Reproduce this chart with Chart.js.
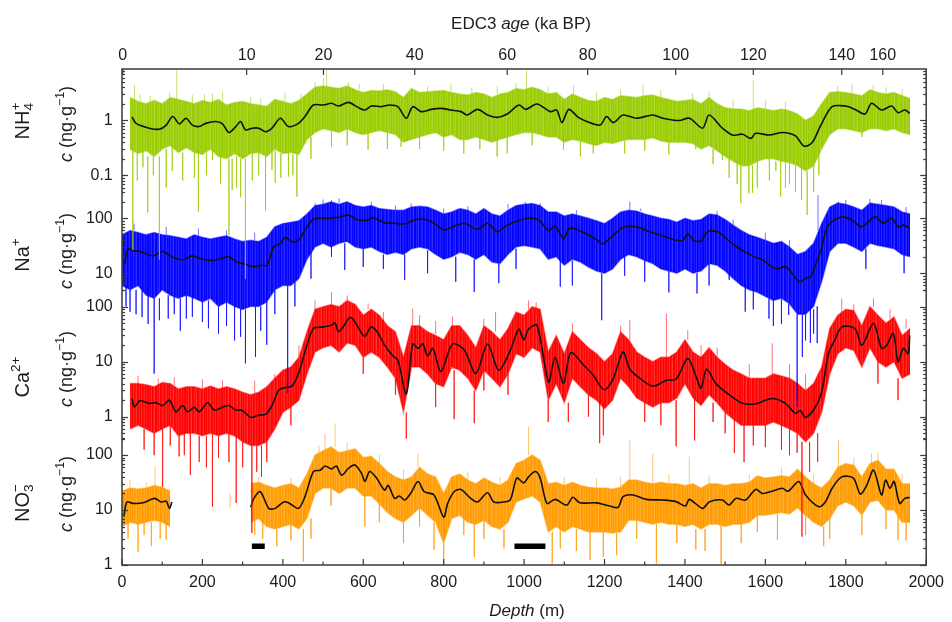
<!DOCTYPE html>
<html>
<head>
<meta charset="utf-8">
<title>EDC ion records vs depth</title>
<script src="https://cdn.jsdelivr.net/npm/chart.js@4.4.1/dist/chart.umd.min.js"></script>
<style>
  html, body { margin: 0; padding: 0; background: #ffffff; }
  #c { display: block; width: 952px; height: 622px; }
</style>
</head>
<body>
<canvas id="c" width="952" height="622"></canvas>
<script>
// ---------------------------------------------------------------------------
// Data: depth in m, concentrations in ng/g
// ---------------------------------------------------------------------------

// depth bins (m) for the envelope of the high-resolution records
const depthBins = [
  0, 20, 40, 60, 80, 100, 120, 140, 160, 180,
  200, 220, 240, 260, 280, 300, 320, 340, 360, 380,
  400, 420, 440, 460, 480, 500, 520, 540, 560, 580,
  600, 620, 640, 660, 680, 700, 720, 740, 760, 780,
  800, 820, 840, 860, 880, 900, 920, 940, 960, 980,
  1000, 1020, 1040, 1060, 1080, 1100, 1120, 1140, 1160, 1180,
  1200, 1220, 1240, 1260, 1280, 1300, 1320, 1340, 1360, 1380,
  1400, 1420, 1440, 1460, 1480, 1500, 1520, 1540, 1560, 1580,
  1600, 1620, 1640, 1660, 1680, 1700, 1720, 1740, 1760, 1780,
  1800, 1820, 1840, 1860, 1880, 1900, 1920, 1940, 1960
];

// NH4+ : upper / lower edge of the dense record per bin
const nh4Hi = [
  null, 2.6, 2.2, 2.0, 2.3, 2.0, 2.6, 2.4, 2.2, 2.0,
  2.3, 2.1, 2.4, 1.9, 2.1, 2.2, 2.0, 1.9, 1.8, 2.4,
  2.2, 2.0, 2.3, 3.0, 4.0, 4.2, 4.0, 3.8, 4.2, 3.6,
  3.2, 3.5, 3.4, 3.6, 3.3, 2.6, 3.8, 3.2, 3.3, 3.4,
  3.5, 3.2, 3.0, 2.9, 3.2, 3.0, 2.6, 3.0, 3.2, 3.8,
  3.6, 4.0, 3.6, 3.0, 3.2, 2.4, 3.0, 2.6, 2.3, 2.2,
  2.6, 2.4, 2.8, 2.7, 2.6, 2.8, 2.9, 2.6, 2.4, 2.2,
  2.3, 2.4, 2.0, 2.6, 2.0, 1.7, 1.6, 1.6, 1.5, 1.7,
  1.6, 1.5, 1.6, 1.5, 1.3, 1.0, 1.2, 2.0, 3.2, 3.3,
  3.2, 3.0, 2.8, 3.6, 3.2, 3.0, 3.2, 2.8, 2.5
];
const nh4Lo = [
  null, 0.3, 0.25, 0.28, 0.22, 0.3, 0.35, 0.26, 0.32, 0.26,
  0.24, 0.3, 0.22, 0.2, 0.25, 0.2, 0.25, 0.26, 0.22, 0.3,
  0.25, 0.26, 0.24, 0.45, 0.6, 0.7, 0.65, 0.6, 0.7, 0.6,
  0.55, 0.6, 0.65, 0.6, 0.55, 0.4, 0.45, 0.5, 0.55, 0.6,
  0.5, 0.55, 0.45, 0.45, 0.5, 0.45, 0.4, 0.45, 0.5, 0.55,
  0.6, 0.6, 0.55, 0.5, 0.5, 0.4, 0.45, 0.42, 0.38, 0.35,
  0.4, 0.38, 0.42, 0.45, 0.45, 0.45, 0.48, 0.42, 0.4, 0.4,
  0.4, 0.38, 0.3, 0.35, 0.28, 0.22, 0.18, 0.15, 0.15, 0.18,
  0.2, 0.2, 0.18, 0.17, 0.15, 0.12, 0.15, 0.3, 0.55, 0.7,
  0.7, 0.65, 0.6, 0.7, 0.7, 0.65, 0.7, 0.6, 0.55
];
// NH4+ smoothed curve [depth, value]
const nh4Fit = [
  [25, 1.15], [35, 0.88], [68, 0.72], [93, 0.69], [110, 0.82], [126, 1.17], [143, 0.86],
  [159, 1.09], [175, 0.82], [192, 0.77], [208, 0.88], [233, 0.95], [250, 0.86], [266, 0.6],
  [283, 0.77], [295, 0.95], [307, 0.67], [324, 0.72], [340, 0.72], [357, 0.62], [373, 0.72],
  [394, 1.09], [414, 0.77], [439, 0.88], [455, 1.17], [476, 1.9], [501, 1.9], [521, 2.04],
  [538, 1.82], [563, 2.12], [587, 1.72], [604, 1.54], [620, 1.82], [645, 1.77], [666, 1.9],
  [686, 1.77], [707, 1.09], [723, 1.77], [744, 1.44], [769, 1.58], [793, 1.65], [818, 1.54],
  [843, 1.44], [859, 1.25], [884, 1.58], [909, 1.25], [933, 1.13], [958, 1.3], [987, 1.9],
  [1004, 1.58], [1032, 1.98], [1065, 1.44], [1081, 1.54], [1094, 0.91], [1111, 1.58],
  [1135, 1.13], [1156, 0.95], [1189, 0.82], [1205, 1.17], [1222, 0.91], [1246, 1.25],
  [1279, 1.09], [1320, 1.25], [1345, 1.09], [1386, 0.99], [1411, 1.09], [1444, 0.72],
  [1460, 1.25], [1493, 0.72], [1518, 0.54], [1543, 0.56], [1564, 0.47], [1576, 0.58],
  [1610, 0.54], [1643, 0.6], [1675, 0.52], [1696, 0.34], [1716, 0.39], [1737, 0.79],
  [1766, 1.77], [1799, 1.82], [1823, 1.58], [1848, 1.3], [1864, 2.04], [1889, 1.54],
  [1914, 1.82], [1930, 1.38], [1947, 1.54], [1959, 1.34]
];
// NH4+ single-sample excursions [depth, from, to]
const nh4Spikes = [
  [31, 2.4, 4.4], [136, 2.4, 8.2], [225, 2.1, 3.1], [501, 4, 5.8], [509, 4, 8.2],
  [563, 4, 5], [818, 3.3, 4.7], [933, 3, 4.1], [1006, 3.6, 8.2], [1123, 3, 4.4],
  [1296, 2.7, 4.4], [1419, 2.4, 3.1], [1570, 1.5, 5.4], [1815, 3, 4.7], [1868, 3.4, 4.4],
  [45, 2.2, 3.0], [70, 2.0, 2.8], [118, 2.4, 3.2], [175, 2.1, 2.9], [205, 2.2, 3.0],
  [250, 2.3, 3.3], [320, 2.0, 2.7], [345, 1.9, 2.5], [405, 2.2, 3.2], [445, 2.2, 3.0],
  [480, 4, 5], [590, 3.6, 4.6], [650, 3.5, 4.6], [760, 3.3, 4.2], [870, 3, 4],
  [980, 3.6, 4.8], [1060, 3, 4], [1180, 2.2, 3.2], [1240, 2.8, 3.6], [1340, 2.6, 3.6],
  [1460, 2.4, 3.4], [1520, 1.6, 2.4], [1600, 1.6, 2.3], [1650, 1.5, 2.2], [1780, 3.2, 4.2],
  [1900, 3, 4], [1940, 2.8, 3.6],
  [27, 0.3, 0.0044], [52, 0.28, 0.14], [64, 0.22, 0.021], [93, 0.22, 0.0029],
  [110, 0.3, 0.06], [151, 0.26, 0.08], [190, 0.26, 0.022], [225, 0.3, 0.19],
  [266, 0.2, 0.0082], [274, 0.2, 0.054], [295, 0.2, 0.04], [307, 0.2, 0.0013],
  [324, 0.25, 0.08], [357, 0.22, 0.023], [373, 0.3, 0.125], [381, 0.28, 0.073],
  [414, 0.26, 0.095], [435, 0.24, 0.041], [521, 0.65, 0.33], [612, 0.6, 0.29],
  [694, 0.45, 0.33], [933, 0.45, 0.22], [958, 0.5, 0.25], [1098, 0.4, 0.29],
  [1172, 0.38, 0.25], [1427, 0.38, 0.3], [1493, 0.28, 0.19], [1510, 0.22, 0.09],
  [1539, 0.15, 0.031], [1559, 0.15, 0.047], [1568, 0.15, 0.048], [1626, 0.18, 0.12],
  [1638, 0.18, 0.041], [1660, 0.17, 0.07], [1690, 0.15, 0.036], [1704, 0.12, 0.019],
  [1733, 0.3, 0.1], [1840, 0.6, 0.5],
  [38, 0.25, 0.08], [78, 0.22, 0.1], [125, 0.35, 0.12], [180, 0.26, 0.09], [210, 0.25, 0.1],
  [245, 0.22, 0.07], [285, 0.22, 0.06], [340, 0.26, 0.1], [395, 0.25, 0.09], [425, 0.24, 0.1],
  [470, 0.5, 0.2], [560, 0.7, 0.35], [660, 0.6, 0.3], [740, 0.5, 0.3], [800, 0.5, 0.28],
  [850, 0.45, 0.25], [890, 0.5, 0.3], [1020, 0.6, 0.35], [1140, 0.42, 0.22], [1250, 0.42, 0.25],
  [1300, 0.45, 0.28], [1360, 0.4, 0.24], [1470, 0.3, 0.16], [1530, 0.18, 0.07],
  [1580, 0.18, 0.06], [1610, 0.2, 0.08], [1650, 0.17, 0.06], [1675, 0.15, 0.05], [1720, 0.15, 0.05]
];

// Na+
const naHi = [
  50, 60, 55, 50, 55, 50, 48, 45, 42, 50,
  45, 42, 45, 48, 42, 38, 40, 38, 45, 70,
  80, 85, 90, 120, 170, 180, 200, 180, 200, 170,
  160, 170, 150, 145, 140, 140, 160, 165, 160, 140,
  120, 130, 150, 140, 120, 150, 120, 110, 140, 170,
  180, 185, 170, 130, 130, 110, 120, 110, 100, 90,
  80, 100, 130, 140, 135, 120, 110, 100, 95, 85,
  100, 90, 95, 120, 115, 95, 75, 60, 50, 45,
  40, 35, 38, 30, 22, 25, 35, 80, 160, 190,
  180, 160, 140, 190, 180, 170, 160, 130, 120
];
const naLo = [
  6, 5, 6, 4, 3.5, 5, 4, 3.5, 4, 3.5,
  3, 3.5, 2.5, 3, 2.5, 2.2, 2.5, 2.5, 3, 5,
  6, 6, 8, 18, 30, 35, 30, 35, 38, 30,
  28, 30, 25, 22, 24, 22, 28, 30, 28, 22,
  18, 20, 24, 22, 18, 22, 16, 15, 22, 30,
  32, 30, 28, 18, 20, 14, 18, 16, 13, 11,
  10, 12, 18, 22, 20, 17, 15, 12, 11, 10,
  12, 10, 11, 15, 14, 11, 8, 6, 5, 4.5,
  3.8, 3.2, 3.5, 2.8, 1.8, 1.8, 2.5, 7, 25, 35,
  35, 30, 25, 35, 32, 30, 28, 22, 20
];
const naFit = [
  [7, 15], [15, 28], [27, 26], [44, 25], [77, 20.7], [101, 25], [126, 19.5], [151, 17.5],
  [175, 20.7], [200, 18], [225, 17], [250, 18.8], [266, 20], [283, 16.3], [307, 14.6],
  [328, 13.2], [348, 14], [361, 14], [377, 30], [394, 35], [406, 45], [423, 37.5],
  [439, 40], [455, 61], [476, 96], [501, 100], [521, 100], [546, 107], [563, 115],
  [587, 93], [612, 93], [624, 103], [653, 83], [678, 81], [703, 79], [727, 93], [752, 96],
  [776, 81], [801, 61], [826, 72], [851, 81], [884, 63], [909, 81], [933, 57], [958, 75],
  [1008, 100], [1036, 93], [1061, 60], [1077, 72], [1098, 43], [1114, 66], [1148, 55],
  [1180, 41], [1195, 34], [1213, 43], [1246, 68], [1279, 70], [1312, 57], [1345, 48],
  [1378, 40], [1394, 39], [1407, 52], [1423, 39], [1440, 39], [1456, 57], [1481, 57],
  [1502, 43], [1535, 28], [1568, 20.7], [1593, 17.5], [1626, 12], [1650, 13.2], [1666, 10],
  [1685, 7], [1704, 8.4], [1712, 8.4], [1737, 25], [1757, 75], [1791, 107], [1815, 93],
  [1840, 70], [1873, 107], [1893, 81], [1914, 100], [1930, 70], [1943, 75], [1959, 66]
];
const naSpikes = [
  [480, 170, 187], [521, 200, 215], [571, 170, 187], [719, 160, 187], [1003, 180, 200],
  [1263, 140, 200], [1731, 60, 265], [1782, 180, 200], [1889, 180, 215],
  [30, 60, 80], [110, 50, 70], [190, 48, 65], [260, 48, 60], [330, 40, 55], [500, 180, 220],
  [540, 190, 230], [620, 170, 200], [680, 140, 170], [800, 120, 150], [860, 140, 165],
  [960, 150, 180], [1040, 170, 190], [1130, 115, 140], [1290, 135, 150], [1480, 115, 135],
  [1520, 75, 95], [1600, 40, 55], [1660, 30, 40], [1800, 180, 215], [1860, 190, 225],
  [1950, 120, 160],
  [20, 5, 2.0], [50, 6, 1.6], [80, 3.5, 0.15], [93, 3.5, 1.4], [130, 4, 1.8], [160, 4, 1.5],
  [200, 3, 1.3], [240, 2.5, 0.8], [280, 2.5, 0.6], [307, 2.2, 0.23], [332, 2.5, 0.3],
  [360, 3, 0.5], [412, 6, 0.067], [521, 30, 20], [554, 35, 11.5], [650, 22, 12],
  [703, 22, 7.6], [876, 18, 4.6], [937, 15, 6.6], [1090, 18, 5.7], [1193, 10, 1.4],
  [1430, 10, 4.3], [1510, 11, 7.6], [1609, 3.5, 1.5], [1658, 2.8, 1.75],
  [1679, 1.8, 0.037], [1692, 1.8, 0.3], [1712, 2.5, 0.54], [1729, 2.5, 0.54],
  [10, 6, 2.5], [35, 5, 1.8], [65, 4, 1.2], [115, 4, 1.5], [145, 3.5, 0.9], [175, 4, 1.6],
  [215, 3.2, 1], [260, 3, 1.1], [295, 2.3, 0.7], [345, 2.5, 0.9], [380, 5, 1.8], [430, 7, 2.5],
  [470, 25, 8], [600, 28, 13], [760, 26, 10], [830, 20, 7], [980, 28, 12], [1120, 17, 6],
  [1250, 20, 9], [1300, 17, 7], [1360, 11, 4.5], [1460, 15, 6], [1550, 6, 2], [1570, 5, 2.2],
  [1620, 3.3, 1.1], [1640, 3.4, 1.2], [1700, 1.8, 0.6], [1720, 2.2, 0.8], [1850, 28, 12],
  [1945, 22, 10]
];

// Ca2+
const caHi = [
  null, 4, 4, 3.8, 3.5, 4.2, 4, 3.2, 3.5, 3.5,
  3.2, 3.6, 3.2, 3.5, 3.2, 2.8, 2.5, 2.8, 3.5, 5,
  7, 8, 12, 35, 90, 100, 110, 100, 130, 110,
  70, 90, 70, 45, 35, 12, 45, 45, 35, 30,
  25, 45, 45, 30, 18, 45, 35, 25, 40, 80,
  70, 100, 90, 15, 30, 14, 35, 25, 18, 14,
  10, 14, 35, 25, 15, 12, 10, 12, 12, 15,
  25, 15, 12, 18, 12, 9, 7, 6, 5, 5,
  5, 6, 5.5, 5, 4, 3, 4, 8, 40, 70,
  90, 85, 45, 100, 70, 50, 65, 30, 40
];
const caLo = [
  null, 0.6, 0.7, 0.6, 0.5, 0.6, 0.7, 0.45, 0.5, 0.5,
  0.45, 0.5, 0.45, 0.5, 0.45, 0.35, 0.3, 0.3, 0.35, 0.6,
  1.2, 1.5, 2, 6, 15, 18, 20, 15, 22, 20,
  12, 15, 12, 8, 5, 1.2, 8, 8, 6, 4,
  3.5, 8, 7, 5, 3, 7, 5, 3.5, 6, 14,
  12, 18, 15, 2, 4, 1.8, 5, 3.5, 2.5, 2,
  1.4, 2, 5, 3.5, 2.2, 1.8, 1.5, 1.8, 1.8, 2.2,
  4, 2.2, 1.6, 2.5, 1.8, 1.2, 0.9, 0.7, 0.7, 0.7,
  0.7, 0.8, 0.7, 0.6, 0.5, 0.35, 0.5, 1.2, 6, 14,
  18, 16, 8, 18, 10, 8, 10, 5, 6
];
const caFit = [
  [25, 2.15], [31, 1.5], [44, 1.95], [68, 1.75], [85, 1.8], [101, 1.6], [118, 2.0],
  [134, 1.23], [151, 1.6], [163, 1.23], [180, 1.48], [192, 1.23], [213, 1.8], [229, 1.32],
  [250, 1.48], [266, 1.6], [283, 1.32], [299, 1.3], [320, 0.97], [340, 1.07], [357, 1.1],
  [373, 1.6], [390, 3.05], [406, 3.4], [423, 3.6], [439, 6.1], [455, 15], [476, 40],
  [501, 43], [521, 46], [530, 51], [538, 35], [550, 43], [567, 64], [579, 53], [596, 33],
  [604, 29], [620, 43], [637, 33], [653, 20], [674, 12.7], [686, 10.7], [707, 2.6],
  [723, 21], [736, 17.5], [748, 21], [760, 12.7], [773, 17.5], [793, 6.6], [822, 21],
  [851, 16.3], [880, 6.1], [909, 21], [937, 7], [966, 16.3], [987, 39], [999, 25],
  [1011, 39], [1032, 46], [1061, 4.3], [1077, 12], [1098, 4.0], [1116, 14.6], [1148, 8.7],
  [1172, 5.7], [1199, 3.1], [1222, 5], [1246, 15], [1263, 7.3], [1288, 5], [1321, 3.6],
  [1354, 4.6], [1378, 4.8], [1407, 11.5], [1428, 5.3], [1440, 3.3], [1454, 7.3],
  [1477, 4.0], [1510, 2.5], [1543, 1.75], [1576, 1.72], [1617, 2.15], [1650, 1.75],
  [1675, 1.15], [1687, 1.3], [1700, 0.97], [1725, 1.52], [1741, 3.05], [1757, 14.1],
  [1774, 26], [1790, 43], [1823, 40], [1840, 20], [1869, 50], [1889, 17.5], [1902, 20],
  [1918, 33], [1930, 10], [1943, 17.5], [1955, 14], [1959, 30]
];
const caSpikes = [
  [480, 90, 130], [521, 110, 186], [612, 90, 115], [723, 45, 93], [822, 45, 66],
  [929, 35, 81], [1011, 90, 130], [1263, 25, 57], [1354, 12, 75], [1407, 25, 37.6],
  [1617, 6, 21.6], [1790, 70, 141], [1869, 100, 141],
  [40, 4, 5.5], [90, 3.6, 5], [130, 3.8, 5.2], [200, 3.3, 4.8], [250, 3.3, 4.6],
  [330, 2.6, 4.5], [380, 4.5, 6], [440, 12, 20], [560, 130, 160], [650, 50, 80],
  [740, 45, 70], [780, 32, 55], [900, 45, 60], [1030, 90, 120], [1120, 35, 50],
  [1240, 35, 45], [1440, 12, 20], [1480, 12, 18], [1560, 5, 9], [1660, 5, 9], [1700, 3, 6],
  [1820, 85, 110], [1910, 60, 90], [1950, 40, 60],
  [101, 0.6, 0.053], [142, 0.45, 0.19], [170, 0.5, 0.087], [192, 0.45, 0.15],
  [225, 0.5, 0.023], [266, 0.5, 0.15], [284, 0.45, 0.027], [323, 0.3, 0.0077],
  [347, 0.3, 0.081], [707, 1.2, 0.4], [826, 7, 0.9], [876, 3, 0.76], [1188, 2, 0.33],
  [1197, 1.8, 0.46], [1378, 2, 0.29], [1424, 2.2, 0.37], [1523, 0.9, 0.22],
  [1547, 0.7, 0.15], [1679, 0.5, 0.22], [1691, 0.35, 0.0066],
  [55, 0.6, 0.25], [80, 0.5, 0.2], [120, 0.7, 0.3], [155, 0.5, 0.2], [210, 0.45, 0.12],
  [240, 0.45, 0.18], [300, 0.35, 0.12], [335, 0.3, 0.1], [360, 0.35, 0.15], [420, 1.5, 0.7],
  [600, 12, 6], [680, 5, 2.5], [780, 4, 1.5], [900, 7, 3], [960, 6, 2.5], [1060, 2, 0.8],
  [1110, 1.8, 0.8], [1160, 2.5, 1], [1300, 1.8, 0.8], [1340, 1.8, 0.7], [1470, 1.8, 0.8],
  [1500, 1.2, 0.5], [1570, 0.7, 0.3], [1600, 0.7, 0.28], [1640, 0.7, 0.25], [1660, 0.6, 0.2],
  [1710, 0.35, 0.1], [1730, 0.5, 0.15], [1880, 10, 4], [1930, 5, 2]
];

// NO3- (no data between ~125 m and ~320 m)
const no3Hi = [
  22, 25, 24, 25, 28, 26, 22, null, null, null,
  null, null, null, null, null, null, 30, 32, 28, 25,
  28, 30, 25, 45, 100, 120, 140, 110, 120, 130,
  90, 95, 70, 50, 40, 35, 40, 60, 45, 40,
  20, 40, 45, 35, 30, 38, 32, 28, 35, 70,
  80, 100, 80, 30, 32, 28, 32, 28, 26, 25,
  25, 24, 26, 35, 35, 32, 30, 32, 30, 30,
  28, 30, 25, 30, 30, 28, 30, 30, 32, 42,
  38, 40, 42, 40, 55, 40, 30, 25, 35, 60,
  70, 65, 40, 70, 80, 55, 55, 30, 30
];
const no3Lo = [
  5, 6, 5.5, 6, 6.5, 6, 5, null, null, null,
  null, null, null, null, null, null, 6, 7, 5, 4.5,
  5, 5.5, 4.5, 7, 20, 25, 25, 20, 25, 25,
  18, 18, 13, 9, 7, 6, 8, 11, 8, 6,
  2.5, 7, 8, 6, 5.5, 6.5, 5, 4.5, 6, 14,
  16, 18, 14, 4, 5, 4, 5, 4.5, 4, 4,
  4, 3.8, 4, 6.5, 6.5, 6, 5.5, 6, 5.5, 5.5,
  5, 5.5, 4.5, 5.5, 5.5, 5, 5.5, 5.5, 6, 8,
  8, 8.5, 9, 8.5, 11, 8, 6, 5, 7, 12,
  14, 12, 8, 14, 15, 10, 10, 6, 6
];
const no3Fit = [
  [5, 7.6], [12, 14], [27, 13.2], [52, 13.5], [81, 16.3], [97, 14], [110, 14.5],
  [118, 10.7], [124, 14], [220, null],
  [320, 11.2], [328, 16.3], [344, 21.5], [365, 10.7], [381, 10.7], [402, 14], [414, 13.5],
  [439, 10.7], [455, 17.5], [476, 50], [493, 53], [505, 63], [521, 56], [533, 63],
  [546, 43], [563, 57], [579, 66], [596, 46], [604, 33], [616, 50], [633, 38], [653, 23],
  [662, 28], [678, 16.3], [690, 18], [703, 15.2], [719, 20.6], [736, 33], [752, 21.5],
  [776, 18.8], [800, 7.4], [810, 13.2], [826, 21.5], [843, 23.7], [867, 16.3], [884, 14],
  [909, 20.6], [925, 14], [950, 14], [966, 15.5], [982, 38], [999, 31], [1011, 40],
  [1028, 50], [1040, 38], [1057, 13.2], [1077, 15.6], [1106, 12.3], [1121, 17],
  [1139, 13.5], [1180, 13.5], [1213, 11.8], [1234, 11.2], [1246, 17.5], [1271, 18.8],
  [1304, 15.6], [1345, 15.2], [1378, 14.2], [1401, 11.8], [1411, 15.6], [1444, 10.7],
  [1460, 14], [1493, 15.2], [1510, 12.3], [1527, 16.3], [1551, 15.2], [1576, 23.7],
  [1593, 20], [1617, 22], [1642, 24.8], [1657, 22], [1683, 33], [1700, 18.8],
  [1733, 11.5], [1749, 14], [1766, 24.8], [1790, 40], [1819, 38], [1836, 19.5],
  [1852, 28], [1869, 53], [1889, 18.8], [1899, 35], [1910, 24.8], [1920, 33],
  [1934, 13.2], [1947, 16.3], [1959, 16.9]
];
const no3Spikes = [
  [82, 25, 61], [505, 120, 246], [530, 140, 377], [736, 60, 107], [1011, 100, 325],
  [1263, 35, 187], [1320, 30, 107], [1411, 30, 93], [1782, 60, 187], [1864, 70, 107],
  [269, 11, 20],
  [20, 25, 35], [60, 25, 32], [100, 26, 33], [340, 32, 40], [420, 30, 38], [490, 110, 150],
  [560, 120, 170], [640, 70, 100], [700, 35, 55], [860, 35, 50], [940, 28, 40],
  [1100, 28, 40], [1180, 25, 38], [1240, 26, 40], [1360, 30, 45], [1460, 30, 42],
  [1560, 32, 45], [1640, 42, 60], [1720, 30, 45], [1820, 65, 90], [1880, 80, 110],
  [1940, 30, 45],
  [40, 5.5, 1.75], [73, 6, 2.2], [110, 6, 2.85], [385, 4.5, 2.2], [451, 4.5, 1.15],
  [604, 18, 5], [776, 6, 1.9], [800, 2.5, 1], [876, 5.5, 1.4], [1070, 4, 1.07],
  [1164, 4, 1.23], [1197, 4, 1.4], [1329, 5.5, 1.07], [1427, 4.5, 1.9], [1490, 5.5, 1.05],
  [1630, 8.5, 2.85], [1745, 5, 2.2], [1930, 10, 2.85],
  [15, 6, 3], [55, 6, 3.5], [95, 6, 3], [330, 7, 3.5], [350, 7, 3], [420, 5.5, 2.8],
  [470, 7, 3], [520, 25, 12], [640, 13, 6], [700, 6, 2.5], [740, 11, 5], [850, 8, 3.5],
  [900, 6.5, 3], [950, 4.5, 2], [1090, 5, 2], [1130, 4.5, 1.8], [1230, 3.8, 1.5],
  [1280, 6.5, 3], [1380, 5.5, 2.5], [1450, 4.5, 1.8], [1540, 5.5, 2.5], [1580, 8, 4],
  [1700, 8, 3.5], [1760, 7, 3], [1840, 8, 3.5], [1900, 10, 4.5], [1950, 6, 2.8]
];

// core sections marked below the NO3- record [from, to] (m), drawn at a fixed level
const markedSections = [[323, 355], [976, 1053]];
const markedLevel = 2.2;

// EDC3 age scale (ka BP) and the depths (m) where those ages fall
const ageLabels = [0, 10, 20, 40, 60, 80, 100, 120, 140, 160];
const ageDepths = [2, 310, 501, 728, 958, 1158, 1377, 1570, 1790, 1892];

// labelled ticks on each concentration axis
const nh4TickLabels = [0.1, 1];
const naTickLabels = [10, 100];
const caTickLabels = [1, 10, 100];
const no3TickLabels = [1, 10, 100];

// ---------------------------------------------------------------------------
// Layout of the stacked log axes
// ---------------------------------------------------------------------------
const FONT = '"Liberation Sans", Arial, Helvetica, sans-serif';
const INK = '#1c1c1c';
const FRAME = '#3a3a3a';
const PLOT_H = 496;          // plot height in px
const PX_PER_DECADE = 55;    // shared vertical scale of all log axes
const DECADES = PLOT_H / PX_PER_DECADE;

// logMin: log10 of the value at the bottom edge of the plot for that axis
const panels = [
  { id: 'nh4', axis: 'yNH4', logMin: -8.085, ticks: nh4TickLabels, tickRange: [0.05, 8.4], rgb: [153, 204, 0],
    hi: nh4Hi, lo: nh4Lo, fit: nh4Fit, spikes: nh4Spikes, order: 0 },
  { id: 'na', axis: 'yNa', logMin: -4.304, ticks: naTickLabels, tickRange: [5, 200], rgb: [0, 0, 255],
    hi: naHi, lo: naLo, fit: naFit, spikes: naSpikes, order: 10 },
  { id: 'ca', axis: 'yCa', logMin: -2.696, ticks: caTickLabels, tickRange: [0.4, 200], rgb: [255, 0, 0],
    hi: caHi, lo: caLo, fit: caFit, spikes: caSpikes, order: 20 },
  { id: 'no3', axis: 'yNO3', logMin: 0, ticks: no3TickLabels, tickRange: [1, 200], rgb: [255, 155, 0],
    hi: no3Hi, lo: no3Lo, fit: no3Fit, spikes: no3Spikes, order: 30 }
];

const canvas = document.getElementById('c');
const rgba = (c, a) => `rgba(${c[0]},${c[1]},${c[2]},${a})`;

// faint, irregular vertical grain so the envelope reads like densely packed samples
const GRAIN_ALPHA = [
  1, 0.9, 0.97, 0.84, 1, 0.93, 0.8, 0.98, 1, 0.88, 0.95, 0.82, 1, 0.96, 0.9,
  0.86, 1, 0.94, 0.83, 0.99, 0.91, 1, 0.85, 0.97, 0.92, 0.81, 1, 0.95, 0.89,
  0.98, 0.84, 1, 0.93, 0.87, 0.99, 0.9, 0.96
];
function grainPattern(rgb) {
  const tile = document.createElement('canvas');
  tile.width = GRAIN_ALPHA.length;
  tile.height = 4;
  const t = tile.getContext('2d');
  GRAIN_ALPHA.forEach((a, i) => { t.fillStyle = rgba(rgb, a); t.fillRect(i, 0, 1, 4); });
  return canvas.getContext('2d').createPattern(tile, 'repeat');
}

const binPoints = arr => depthBins.map((d, i) => ({ x: d, y: arr[i] === undefined ? null : arr[i] }));
const pairPoints = pairs => pairs.map(p => ({ x: p[0], y: p[1] }));
const spikePoints = list => {
  const pts = [];
  list.forEach(s => { pts.push({ x: s[0], y: s[1] }, { x: s[0], y: s[2] }, { x: s[0], y: null }); });
  return pts;
};

const datasets = [];
panels.forEach(p => {
  datasets.push({
    label: p.id + ' smoothed', yAxisID: p.axis, data: pairPoints(p.fit),
    borderColor: '#111111', borderWidth: 1.6, pointRadius: 0, tension: 0.3,
    spanGaps: false, fill: false, order: p.order
  });
  datasets.push({
    label: p.id + ' excursions', yAxisID: p.axis, data: spikePoints(p.spikes),
    borderColor: rgba(p.rgb, 0.55), borderWidth: 1, pointRadius: 0, tension: 0,
    spanGaps: false, fill: false, order: p.order + 1
  });
  datasets.push({
    label: p.id + ' upper', yAxisID: p.axis, data: binPoints(p.hi),
    borderColor: rgba(p.rgb, 0.45), borderWidth: 1.5, backgroundColor: grainPattern(p.rgb),
    pointRadius: 0, tension: 0, spanGaps: false, fill: '+1', order: p.order + 2
  });
  datasets.push({
    label: p.id + ' lower', yAxisID: p.axis, data: binPoints(p.lo),
    borderColor: rgba(p.rgb, 0.45), borderWidth: 1.5,
    pointRadius: 0, tension: 0, spanGaps: false, fill: false, order: p.order + 3
  });
});

// black section markers on the NO3- axis
const sectionPts = [];
markedSections.forEach(s => { sectionPts.push({ x: s[0], y: markedLevel }, { x: s[1], y: markedLevel }, { x: s[1], y: null }); });
datasets.push({
  label: 'sections', yAxisID: 'yNO3', data: sectionPts, borderColor: '#000000',
  borderWidth: 5.5, borderCapStyle: 'butt', pointRadius: 0, spanGaps: false, fill: false, order: -1
});

// ---------------------------------------------------------------------------
// Scales
// ---------------------------------------------------------------------------
const tickFont = { family: FONT, size: 16 };
const scales = {
  x: {
    type: 'linear', position: 'bottom', min: 0, max: 2000,
    ticks: { stepSize: 200, autoSkip: false, maxRotation: 0, font: tickFont, color: INK, padding: 8,
             callback: v => String(v) },
    grid: { display: false, drawTicks: false }, border: { display: false },
    afterFit: s => { s.height = 30; }
  },
  age: {
    type: 'linear', position: 'top', min: 0, max: 2000,
    afterBuildTicks: s => { s.ticks = ageDepths.map(d => ({ value: d })); },
    ticks: { autoSkip: false, maxRotation: 0, font: tickFont, color: INK, padding: 4,
             callback: (v, i) => String(ageLabels[i]) },
    grid: { display: false, drawTicks: false }, border: { display: false },
    afterFit: s => { s.height = 40; }
  }
};
panels.forEach(p => {
  scales[p.axis] = {
    type: 'logarithmic',
    position: { x: -23 },
    min: Math.pow(10, p.logMin), max: Math.pow(10, p.logMin + DECADES),
    afterBuildTicks: s => { s.ticks = p.ticks.map(v => ({ value: v })); },
    ticks: { autoSkip: false, font: tickFont, color: INK, padding: 0, callback: v => String(v) },
    grid: { display: false, drawTicks: false }, border: { display: false }
  };
});

// ---------------------------------------------------------------------------
// Frame, inward tick marks and the mixed-style axis titles
// ---------------------------------------------------------------------------
function drawRuns(ctx, runs, size, x, y) {
  const parts = runs.map(r => {
    const fs = r.script ? size * 0.68 : size;
    const font = (r.italic ? 'italic ' : '') + fs + 'px ' + FONT;
    ctx.font = font;
    const dy = r.script === 'sup' ? -size * 0.42 : (r.script === 'sub' ? size * 0.24 : 0);
    return { t: r.t, font, dy, w: ctx.measureText(r.t).width, stack: r.stack };
  });
  const xs = [];
  let cur = 0, lastStart = 0, lastW = 0;
  parts.forEach(p => {
    if (p.stack) {
      xs.push(lastStart);
      lastW = Math.max(lastW, p.w);
      cur = lastStart + lastW;
    } else {
      xs.push(cur); lastStart = cur; lastW = p.w; cur += p.w;
    }
  });
  const x0 = x - cur / 2;
  parts.forEach((p, i) => {
    ctx.font = p.font;
    ctx.fillText(p.t, x0 + xs[i], y + p.dy);
  });
}

const ionLabels = [
  { runs: [{ t: 'NH' }, { t: '4', script: 'sub' }, { t: '+', script: 'sup', stack: true }], y: 121 },
  { runs: [{ t: 'Na' }, { t: '+', script: 'sup' }], y: 255 },
  { runs: [{ t: 'Ca' }, { t: '2+', script: 'sup' }], y: 377 },
  { runs: [{ t: 'NO' }, { t: '3', script: 'sub' }, { t: '\u2212', script: 'sup', stack: true }], y: 503 }
];
const unitRuns = [{ t: 'c', italic: true }, { t: ' (ng\u00b7g' }, { t: '\u22121', script: 'sup' }, { t: ')' }];
const unitCenters = [124, 251, 369, 494];

const decorPlugin = {
  id: 'decor',
  afterDraw(chart) {
    const ctx = chart.ctx;
    const { left, right, top, bottom } = chart.chartArea;
    ctx.save();
    ctx.strokeStyle = FRAME;
    ctx.lineWidth = 1.5;
    ctx.strokeRect(left, top, right - left, bottom - top);

    const seg = (x1, y1, x2, y2) => { ctx.beginPath(); ctx.moveTo(x1, y1); ctx.lineTo(x2, y2); ctx.stroke(); };
    ctx.lineWidth = 1.2;

    // depth ticks (every 100 m, longer every 200 m)
    const xs = chart.scales.x;
    for (let d = 0; d <= 2000; d += 100) {
      const px = xs.getPixelForValue(d);
      const len = d % 200 === 0 ? 6 : 3.5;
      seg(px, bottom, px, bottom - len);
    }
    // age ticks
    const ages = chart.scales.age;
    ageDepths.forEach(d => { const px = ages.getPixelForValue(d); seg(px, top, px, top + 6); });

    // log ticks on both sides for each panel
    panels.forEach(p => {
      const sc = chart.scales[p.axis];
      const [lo, hi] = p.tickRange;
      for (let k = Math.floor(Math.log10(lo)); k <= Math.ceil(Math.log10(hi)); k++) {
        for (let m = 1; m <= 9; m++) {
          const v = m * Math.pow(10, k);
          if (v < lo * 0.999 || v > hi * 1.001) continue;
          const py = Math.round(sc.getPixelForValue(v)) + 0.5;
          const len = m === 1 ? 6 : 3;
          seg(left, py, left + len, py);
          seg(right, py, right - len, py);
        }
      }
    });

    // titles
    ctx.fillStyle = INK;
    ctx.textBaseline = 'alphabetic';
    ctx.textAlign = 'left';
    drawRuns(ctx, [{ t: 'EDC3 ' }, { t: 'age', italic: true }, { t: ' (ka BP)' }], 17, 521, 28.5);
    drawRuns(ctx, [{ t: 'Depth', italic: true }, { t: ' (m)' }], 17, 527, 616);

    const rotated = (runs, size, bx, cy) => {
      ctx.save();
      ctx.translate(bx, cy);
      ctx.rotate(-Math.PI / 2);
      drawRuns(ctx, runs, size, 0, 0);
      ctx.restore();
    };
    ionLabels.forEach(l => rotated(l.runs, 20, 28.5, l.y));
    unitCenters.forEach(cy => rotated(unitRuns, 18, 72, cy));
    ctx.restore();
  }
};

Chart.defaults.font.family = FONT;
new Chart(canvas, {
  type: 'line',
  data: { datasets },
  options: {
    responsive: false,
    devicePixelRatio: 1,
    animation: false,
    layout: { padding: { left: 122, right: 20, top: 29, bottom: 27 } },
    plugins: { legend: { display: false }, tooltip: { enabled: false }, title: { display: false } },
    scales
  },
  plugins: [decorPlugin]
});
</script>
</body>
</html>
